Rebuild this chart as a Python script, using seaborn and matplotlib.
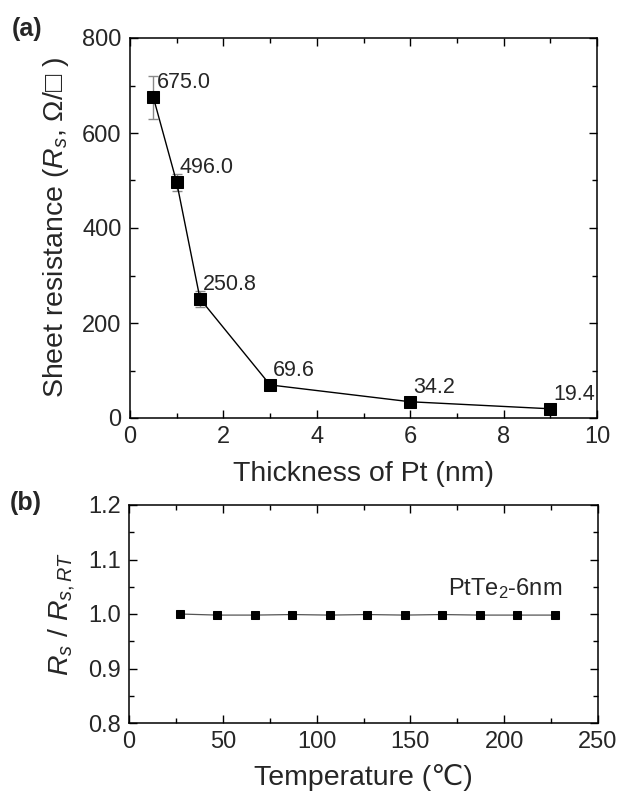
import matplotlib
matplotlib.use("Agg")
import matplotlib.pyplot as plt
import seaborn as sns
import pandas as pd
from matplotlib.ticker import MultipleLocator

# ---- data ----
thickness_nm = [0.5, 1.0, 1.5, 3.0, 6.0, 9.0]
sheet_res = [675.0, 496.0, 250.8, 69.6, 34.2, 19.4]
sheet_res_err = [45, 18, 17, 6, 5, 4]
res_labels = ["675.0", "496.0", "250.8", "69.6", "34.2", "19.4"]

temperature_c = [27, 47, 67, 87, 107, 127, 147, 167, 187, 207, 227]
rs_ratio = [1.000, 0.998, 0.998, 0.999, 0.998, 0.999, 0.998, 0.999, 0.998, 0.998, 0.998]

sns.set_style("ticks")
plt.rcParams["font.family"] = ["Liberation Sans", "DejaVu Sans"]
plt.rcParams["mathtext.fontset"] = "custom"
plt.rcParams["mathtext.rm"] = "Liberation Sans"
plt.rcParams["mathtext.it"] = "Liberation Sans:italic"
plt.rcParams["mathtext.bf"] = "Liberation Sans:bold"

fig = plt.figure(figsize=(6.17, 7.92), dpi=100)
ax1 = fig.add_axes([130/617, 1-418/792, (597-130)/617, (418-38)/792])
ax2 = fig.add_axes([129/617, 1-723/792, (598-129)/617, (723-505)/792])

df_a = pd.DataFrame({"t": thickness_nm, "rs": sheet_res})
df_b = pd.DataFrame({"T": temperature_c, "r": rs_ratio})

# panel a
ax1.errorbar(thickness_nm, sheet_res, yerr=sheet_res_err, fmt="none",
             ecolor="#8a8a8a", elinewidth=1.0, capsize=3.5, capthick=1.0, zorder=1)
sns.lineplot(data=df_a, x="t", y="rs", ax=ax1, color="black", linewidth=1.0,
             marker="s", markersize=9.3, markeredgecolor="black",
             markerfacecolor="black", zorder=3)
for xv, yv, lab in zip(thickness_nm, sheet_res, res_labels):
    ax1.annotate(lab, (xv, yv), xytext=(2.2, 6.5), textcoords="offset points",
                 ha="left", va="baseline", fontsize=15.5)

ax1.set_xlim(0, 10)
ax1.set_ylim(0, 800)
ax1.xaxis.set_major_locator(MultipleLocator(2))
ax1.xaxis.set_minor_locator(MultipleLocator(1))
ax1.yaxis.set_major_locator(MultipleLocator(200))
ax1.yaxis.set_minor_locator(MultipleLocator(100))
ax1.set_xlabel("Thickness of Pt (nm)", fontsize=20.5, labelpad=9)
ax1.set_ylabel("Sheet resistance ($R_s$, Ω/□ )", fontsize=20.5, labelpad=8)

# panel b
sns.lineplot(data=df_b, x="T", y="r", ax=ax2, color="#555555", linewidth=0.9,
             marker="s", markersize=5.5, markeredgecolor="black",
             markerfacecolor="black", zorder=3)
ax2.set_xlim(0, 250)
ax2.set_ylim(0.8, 1.2)
ax2.xaxis.set_major_locator(MultipleLocator(50))
ax2.xaxis.set_minor_locator(MultipleLocator(25))
ax2.yaxis.set_major_locator(MultipleLocator(0.1))
ax2.yaxis.set_minor_locator(MultipleLocator(0.05))
ax2.set_xlabel("Temperature (℃)", fontsize=20.5, labelpad=8)
ax2.set_ylabel("$R_s$ / $R_{s,RT}$", fontsize=20.5, labelpad=8)
ax2.text(170, 1.035, "PtTe$_{\\mathrm{2}}$-6nm", fontsize=17, ha="left", va="baseline")

for ax in (ax1, ax2):
    for sp in ax.spines.values():
        sp.set_visible(True)
        sp.set_color("black")
        sp.set_linewidth(1.1)
    ax.tick_params(which="both", direction="in", top=True, right=True,
                   color="black", width=1.0)
    ax.tick_params(which="major", length=6, labelsize=17, pad=6)
    ax.tick_params(which="minor", length=3.5)

fig.text(12/617, 1-29/792, "(a)", fontsize=18, fontweight="bold", va="center", ha="left")
fig.text(10/617, 1-503/792, "(b)", fontsize=18, fontweight="bold", va="center", ha="left")

fig.savefig("out.png", dpi=100)
